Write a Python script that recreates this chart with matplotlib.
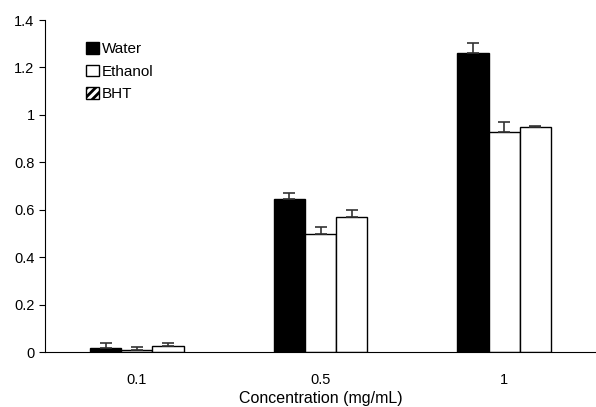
import numpy as np
import matplotlib
matplotlib.use("Agg")
import matplotlib.pyplot as plt
from matplotlib.patches import Patch

plt.rcParams['font.family'] = ['Liberation Sans', 'DejaVu Sans']
plt.rcParams['hatch.linewidth'] = 2.0

# data
concs = ['0.1', '0.5', '1']
water = [0.017, 0.645, 1.26]
water_err = [0.023, 0.025, 0.045]
ethanol = [0.008, 0.497, 0.928]
ethanol_err = [0.012, 0.03, 0.04]
bht = [0.025, 0.57, 0.95]
bht_err = [0.012, 0.03, 0.004]

fig = plt.figure(figsize=(5.96, 4.07), dpi=100)
ax = fig.add_axes([45/596, 55/407, 551/596, 332/407])

x = np.arange(len(concs)) + 0.5
w = 0.17
ekw = dict(ecolor='#333333', elinewidth=1.2, capsize=4, capthick=1.2)

ax.bar(x - w, water, w, color='black', edgecolor='black', lw=1,
       yerr=[np.zeros(3), water_err], error_kw=ekw, label='Water')
ax.bar(x, ethanol, w, color='white', edgecolor='black', lw=1,
       yerr=[np.zeros(3), ethanol_err], error_kw=ekw, label='Ethanol')
ax.bar(x + w, bht, w, color='white', edgecolor='black', lw=1,
       yerr=[np.zeros(3), bht_err], error_kw=ekw, label='BHT')

# legend handles (BHT shown hatched)
handles = [Patch(facecolor='black', edgecolor='black'),
           Patch(facecolor='white', edgecolor='black'),
           Patch(facecolor='white', edgecolor='black', hatch='////')]
ax.legend(handles, ['Water', 'Ethanol', 'BHT'], loc='upper left',
          bbox_to_anchor=(0.05, 0.975), frameon=False, fontsize=11,
          handlelength=0.8, handleheight=0.8, handletextpad=0.2,
          labelspacing=0.55)

ax.set_xlim(0, 3)
ax.set_ylim(0, 1.4)
ax.set_yticks(np.arange(0, 1.41, 0.2))
ax.set_yticklabels(['0', '0.2', '0.4', '0.6', '0.8', '1', '1.2', '1.4'])
ax.set_xticks(x)
ax.set_xticklabels(concs)
ax.tick_params(axis='x', length=0, labelsize=10.5, pad=15)
ax.tick_params(axis='y', length=4, labelsize=10.5, direction='out')
ax.spines['top'].set_visible(False)
ax.spines['right'].set_visible(False)
ax.set_xlabel('Concentration (mg/mL)', fontsize=11.5, labelpad=3)

plt.savefig('out.png', dpi=100)
